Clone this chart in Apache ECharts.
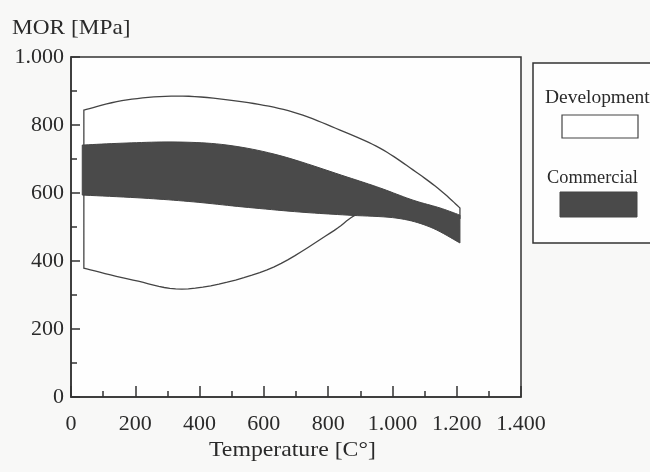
<!DOCTYPE html>
<html><head><meta charset="utf-8">
<script src="https://cdn.jsdelivr.net/npm/echarts@6/dist/echarts.min.js"></script>
<style>html,body{margin:0;padding:0;background:#f8f8f7}#c{width:650px;height:472px}</style>
</head><body><div id="c"></div>
<script>
// ---- data (Temperature °C, MOR MPa) ----
const xTickValues = [0, 200, 400, 600, 800, 1000, 1200, 1400];
const yTickValues = [0, 200, 400, 600, 800, 1000];
const devUpper = [[40,844],[174,874],[348,885],[535,868],[691,838],[837,785],[961,732],[1064,668],[1148,609],[1210,556]];
const devLower = [[40,379],[193,344],[365,318],[610,374],[806,482],[899,541],[1024,556],[1117,550],[1179,536],[1210,526]];
const comUpper = [[35,741],[174,747],[330,750],[485,741],[650,710],[859,647],[961,615],[1064,579],[1148,556],[1210,535]];
const comLower = [[35,594],[224,585],[380,574],[535,559],[712,544],[859,535],[1014,526],[1117,500],[1210,453]];
const seriesNames = ['Development', 'Commercial'];

function fmt(v){ return v >= 1000 ? Math.floor(v/1000) + '.' + String(v%1000).padStart(3,'0') : String(v); }

// Catmull-Rom sampling in pixel space (rendering only)
function spline(pts){
  if (pts.length < 3) return pts.slice();
  const out = [];
  for (let i = 0; i < pts.length - 1; i++){
    const p0 = pts[Math.max(i-1,0)], p1 = pts[i], p2 = pts[i+1], p3 = pts[Math.min(i+2,pts.length-1)];
    for (let k = 0; k < 10; k++){
      const t = k/10, t2 = t*t, t3 = t2*t;
      out.push([0,1].map(j => 0.5*((2*p1[j]) + (-p0[j]+p2[j])*t + (2*p0[j]-5*p1[j]+4*p2[j]-p3[j])*t2 + (-p0[j]+3*p1[j]-3*p2[j]+p3[j])*t3)));
    }
  }
  out.push(pts[pts.length-1]);
  return out;
}
function bandSeries(name, upper, lower, style){
  return {
    type: 'custom', name: name, data: [0],
    renderItem: function(params, api){
      const up = spline(upper.map(p => api.coord(p)));
      const lo = spline(lower.map(p => api.coord(p))).reverse();
      return { type: 'polygon', shape: { points: up.concat(lo) }, style: style };
    }
  };
}
const serif = 'Liberation Serif';
const ink = '#2a2a2a';
const chart = echarts.init(document.getElementById('c'));
chart.setOption({
  backgroundColor: '#f8f8f7',
  animation: false,
  grid: { left: 71, top: 57, right: 129, bottom: 75, show: true, backgroundColor: '#fefefe', borderColor: '#333', borderWidth: 1.5 },
  xAxis: {
    type: 'value', min: xTickValues[0], max: xTickValues[xTickValues.length-1], interval: 200,
    axisLine: { show: true, lineStyle: { color: '#333', width: 1.5 } },
    axisTick: { show: true, inside: true, length: 11, lineStyle: { color: '#333', width: 1.5 } },
    minorTick: { show: true, splitNumber: 2, length: 6, lineStyle: { color: '#333', width: 1.5 } },
    splitLine: { show: false },
    axisLabel: { formatter: fmt, fontFamily: serif, fontSize: 22, color: ink, margin: 16 }
  },
  yAxis: {
    type: 'value', min: yTickValues[0], max: yTickValues[yTickValues.length-1], interval: 200,
    axisLine: { show: true, lineStyle: { color: '#333', width: 1.5 } },
    axisTick: { show: true, inside: true, length: 9, lineStyle: { color: '#333', width: 1.5 } },
    minorTick: { show: true, splitNumber: 2, length: 6, lineStyle: { color: '#333', width: 1.5 } },
    splitLine: { show: false },
    axisLabel: { formatter: fmt, fontFamily: serif, fontSize: 22, color: ink, margin: 7, padding: [7, 0, 0, 0] }
  },
  series: [
    bandSeries(seriesNames[0], devUpper, devLower, { fill: '#ffffff', stroke: '#444', lineWidth: 1.3 }),
    bandSeries(seriesNames[1], comUpper, comLower, { fill: '#4a4a4a', stroke: '#444', lineWidth: 1 })
  ],
  graphic: [
    { type: 'text', left: 12, top: 17, style: { text: 'MOR [MPa]', font: '22px "Liberation Serif"', fill: ink }, scaleX: 1.06 },
    { type: 'text', left: 209, top: 439, style: { text: 'Temperature [C°]', font: '22px "Liberation Serif"', fill: ink }, scaleX: 1.08 },
    { type: 'rect', shape: { x: 533, y: 63, width: 140, height: 180 }, style: { fill: '#fefefe', stroke: '#333', lineWidth: 1.5 } },
    { type: 'text', x: 545, y: 98, style: { text: seriesNames[0], font: '18px "Liberation Serif"', fill: ink, verticalAlign: 'middle' }, scaleX: 1.08 },
    { type: 'rect', shape: { x: 562, y: 115, width: 76, height: 23 }, style: { fill: '#fff', stroke: '#444', lineWidth: 1.2 } },
    { type: 'text', x: 547, y: 178, style: { text: seriesNames[1], font: '18px "Liberation Serif"', fill: ink, verticalAlign: 'middle' }, scaleX: 1.02 },
    { type: 'rect', shape: { x: 560, y: 192, width: 77, height: 25 }, style: { fill: '#4a4a4a', stroke: '#444', lineWidth: 1 } }
  ]
});
</script>
</body></html>
